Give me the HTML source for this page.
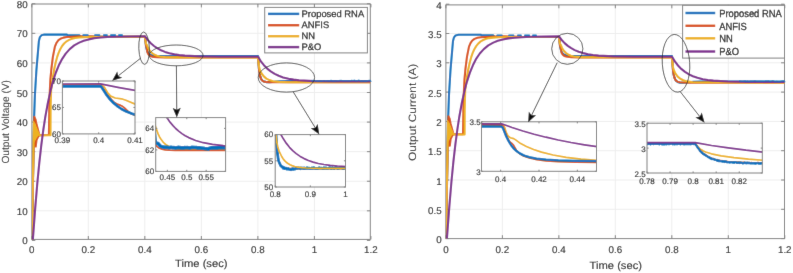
<!DOCTYPE html>
<html><head><meta charset="utf-8"><style>
html,body{margin:0;padding:0;background:#fff;width:793px;height:273px;overflow:hidden;}
svg{display:block;}
</style></head><body>
<svg text-rendering="geometricPrecision" xmlns="http://www.w3.org/2000/svg" width="793" height="273" viewBox="0 0 793 273" font-family="Liberation Sans, sans-serif">
<defs><filter id="bl" filterUnits="userSpaceOnUse" x="0" y="0" width="793" height="273"><feConvolveMatrix order="3" kernelMatrix="0.0072 0.0847 0.0072 0.0847 1 0.0847 0.0072 0.0847 0.0072" edgeMode="duplicate"/></filter></defs>
<g filter="url(#bl)">
<rect width="793" height="273" fill="#fff"/>
<line x1="88.32" y1="4.00" x2="88.32" y2="239.40" stroke="#eeeeee" stroke-width="1.00" />
<line x1="144.84" y1="4.00" x2="144.84" y2="239.40" stroke="#eeeeee" stroke-width="1.00" />
<line x1="201.36" y1="4.00" x2="201.36" y2="239.40" stroke="#eeeeee" stroke-width="1.00" />
<line x1="257.88" y1="4.00" x2="257.88" y2="239.40" stroke="#eeeeee" stroke-width="1.00" />
<line x1="314.40" y1="4.00" x2="314.40" y2="239.40" stroke="#eeeeee" stroke-width="1.00" />
<line x1="31.90" y1="210.82" x2="370.30" y2="210.82" stroke="#eeeeee" stroke-width="1.00" />
<line x1="31.90" y1="181.24" x2="370.30" y2="181.24" stroke="#eeeeee" stroke-width="1.00" />
<line x1="31.90" y1="151.66" x2="370.30" y2="151.66" stroke="#eeeeee" stroke-width="1.00" />
<line x1="31.90" y1="122.08" x2="370.30" y2="122.08" stroke="#eeeeee" stroke-width="1.00" />
<line x1="31.90" y1="92.50" x2="370.30" y2="92.50" stroke="#eeeeee" stroke-width="1.00" />
<line x1="31.90" y1="62.92" x2="370.30" y2="62.92" stroke="#eeeeee" stroke-width="1.00" />
<line x1="31.90" y1="33.34" x2="370.30" y2="33.34" stroke="#eeeeee" stroke-width="1.00" />
<defs><clipPath id="cL"><rect x="31.90" y="2.00" width="338.40" height="237.40"/></clipPath></defs>
<rect x="31.90" y="4.00" width="338.40" height="235.40" fill="none" stroke="#7f7f7f" stroke-width="1.00"/>
<line x1="31.80" y1="239.40" x2="31.80" y2="236.00" stroke="#7f7f7f" stroke-width="1.00" />
<line x1="31.80" y1="4.00" x2="31.80" y2="7.40" stroke="#7f7f7f" stroke-width="1.00" />
<line x1="88.32" y1="239.40" x2="88.32" y2="236.00" stroke="#7f7f7f" stroke-width="1.00" />
<line x1="88.32" y1="4.00" x2="88.32" y2="7.40" stroke="#7f7f7f" stroke-width="1.00" />
<line x1="144.84" y1="239.40" x2="144.84" y2="236.00" stroke="#7f7f7f" stroke-width="1.00" />
<line x1="144.84" y1="4.00" x2="144.84" y2="7.40" stroke="#7f7f7f" stroke-width="1.00" />
<line x1="201.36" y1="239.40" x2="201.36" y2="236.00" stroke="#7f7f7f" stroke-width="1.00" />
<line x1="201.36" y1="4.00" x2="201.36" y2="7.40" stroke="#7f7f7f" stroke-width="1.00" />
<line x1="257.88" y1="239.40" x2="257.88" y2="236.00" stroke="#7f7f7f" stroke-width="1.00" />
<line x1="257.88" y1="4.00" x2="257.88" y2="7.40" stroke="#7f7f7f" stroke-width="1.00" />
<line x1="314.40" y1="239.40" x2="314.40" y2="236.00" stroke="#7f7f7f" stroke-width="1.00" />
<line x1="314.40" y1="4.00" x2="314.40" y2="7.40" stroke="#7f7f7f" stroke-width="1.00" />
<line x1="370.92" y1="239.40" x2="370.92" y2="236.00" stroke="#7f7f7f" stroke-width="1.00" />
<line x1="370.92" y1="4.00" x2="370.92" y2="7.40" stroke="#7f7f7f" stroke-width="1.00" />
<line x1="31.90" y1="240.40" x2="35.30" y2="240.40" stroke="#7f7f7f" stroke-width="1.00" />
<line x1="370.30" y1="240.40" x2="366.90" y2="240.40" stroke="#7f7f7f" stroke-width="1.00" />
<line x1="31.90" y1="210.82" x2="35.30" y2="210.82" stroke="#7f7f7f" stroke-width="1.00" />
<line x1="370.30" y1="210.82" x2="366.90" y2="210.82" stroke="#7f7f7f" stroke-width="1.00" />
<line x1="31.90" y1="181.24" x2="35.30" y2="181.24" stroke="#7f7f7f" stroke-width="1.00" />
<line x1="370.30" y1="181.24" x2="366.90" y2="181.24" stroke="#7f7f7f" stroke-width="1.00" />
<line x1="31.90" y1="151.66" x2="35.30" y2="151.66" stroke="#7f7f7f" stroke-width="1.00" />
<line x1="370.30" y1="151.66" x2="366.90" y2="151.66" stroke="#7f7f7f" stroke-width="1.00" />
<line x1="31.90" y1="122.08" x2="35.30" y2="122.08" stroke="#7f7f7f" stroke-width="1.00" />
<line x1="370.30" y1="122.08" x2="366.90" y2="122.08" stroke="#7f7f7f" stroke-width="1.00" />
<line x1="31.90" y1="92.50" x2="35.30" y2="92.50" stroke="#7f7f7f" stroke-width="1.00" />
<line x1="370.30" y1="92.50" x2="366.90" y2="92.50" stroke="#7f7f7f" stroke-width="1.00" />
<line x1="31.90" y1="62.92" x2="35.30" y2="62.92" stroke="#7f7f7f" stroke-width="1.00" />
<line x1="370.30" y1="62.92" x2="366.90" y2="62.92" stroke="#7f7f7f" stroke-width="1.00" />
<line x1="31.90" y1="33.34" x2="35.30" y2="33.34" stroke="#7f7f7f" stroke-width="1.00" />
<line x1="370.30" y1="33.34" x2="366.90" y2="33.34" stroke="#7f7f7f" stroke-width="1.00" />
<line x1="31.90" y1="3.76" x2="35.30" y2="3.76" stroke="#7f7f7f" stroke-width="1.00" />
<line x1="370.30" y1="3.76" x2="366.90" y2="3.76" stroke="#7f7f7f" stroke-width="1.00" />
<g clip-path="url(#cL)">
<path d="M31.8,240.4 L34.1,118.4 L34.9,95.2 L36.4,70.1 L38.9,41.0 L39.9,37.1 L41.4,35.3 L44.4,34.6 L66.5,34.5 L67.6,35.2 L79.3,35.2 L80.3,36.4 L80.3,36.9 L145.0,36.9 L146.2,47.1 L146.9,50.0 L147.7,52.2 L148.8,53.7 L150.2,54.7 L152.2,55.4 L154.9,55.8 L166.5,56.1 L258.1,56.1 L259.0,69.2 L259.7,73.6 L260.4,77.0 L261.3,79.2 L262.5,80.6 L264.0,81.6 L266.1,82.1 L269.7,82.2 L279.2,81.3 L286.2,81.0 L370.9,81.0" fill="none" stroke="#0072BD" stroke-width="2.10" stroke-linejoin="round" stroke-linecap="round" />
<path d="M31.8,240.4 L34.3,116.9 L35.5,119.4 L36.5,124.4 L39.4,135.0 L37.1,138.0 L36.1,140.5 L35.7,146.5 L36.5,140.0 L38.4,136.0 L39.9,135.1 L48.9,135.0 L49.4,104.0 L49.9,89.3 L50.4,79.1 L51.4,68.6 L52.9,56.7 L54.9,46.6 L56.4,43.0 L57.9,40.8 L58.4,40.2 L60.4,38.8 L63.4,37.6 L66.9,37.0 L80.4,36.4 L89.9,36.2 L96.8,36.6 L105.8,36.8 L145.0,36.9 L146.0,45.7 L146.7,48.0 L147.2,51.4 L147.7,52.9 L148.5,54.4 L149.7,55.5 L151.2,56.3 L153.2,56.9 L157.3,57.3 L164.7,57.4 L258.1,57.4 L259.1,70.2 L259.7,74.2 L260.4,77.3 L261.3,79.3 L262.3,80.6 L263.8,81.5 L265.8,81.9 L269.3,82.2 L275.6,82.3 L370.9,82.3" fill="none" stroke="#D95319" stroke-width="2.10" stroke-linejoin="round" stroke-linecap="round" />
<path d="M31.8,240.4 L33.9,124.4 L39.4,135.2 L50.5,135.3 L50.6,110.3 L51.1,90.2 L52.6,78.8 L54.1,69.8 L55.6,62.8 L57.1,57.2 L58.6,52.9 L60.1,49.5 L62.1,46.0 L64.1,43.5 L66.6,41.3 L69.1,39.9 L72.1,38.7 L75.1,38.0 L79.1,37.5 L84.6,37.1 L98.5,36.9 L145.1,36.9 L145.8,42.9 L146.1,43.9 L146.6,44.4 L147.9,47.6 L149.8,50.7 L151.8,52.9 L154.1,54.5 L156.9,55.8 L159.9,56.5 L165.9,57.2 L174.9,57.4 L258.1,57.4 L258.6,63.5 L259.2,67.6 L260.1,70.7 L261.6,73.5 L263.8,76.4 L266.4,78.6 L269.4,80.1 L273.1,81.2 L279.1,81.9 L289.1,82.2 L370.9,82.3" fill="none" stroke="#EDB120" stroke-width="2.10" stroke-linejoin="round" stroke-linecap="round" />
<path d="M33.3,120.9 L34.9,123.4 L36.3,126.9 L37.5,130.4 L38.9,134.6 L37.1,137.0 L35.1,140.0 L33.5,143.0 Z" fill="#EDB120" stroke="#EDB120" stroke-width="0.8"/>
<path d="M31.8,240.4 L32.8,240.4 L35.3,207.2 L37.3,183.3 L39.3,162.8 L41.3,145.2 L43.3,130.0 L45.3,116.9 L47.8,103.1 L50.3,91.7 L52.7,82.2 L55.7,73.0 L58.7,65.6 L62.2,58.8 L65.7,53.6 L69.7,49.1 L74.2,45.4 L79.2,42.6 L83.7,40.8 L88.7,39.4 L94.1,38.3 L100.6,37.5 L107.6,37.0 L116.6,36.7 L145.0,36.3 L147.8,40.0 L150.8,43.2 L154.0,46.0 L157.5,48.4 L161.0,50.2 L165.0,51.9 L169.4,53.2 L174.4,54.3 L179.4,55.1 L184.9,55.6 L199.4,56.4 L219.8,56.8 L258.1,56.8 L260.9,61.3 L263.9,65.2 L267.2,68.6 L270.7,71.4 L274.7,73.9 L278.7,75.8 L283.1,77.4 L288.6,78.7 L293.6,79.6 L299.1,80.2 L313.6,81.1 L333.5,81.4 L370.9,81.5" fill="none" stroke="#7E2F8E" stroke-width="2.10" stroke-linejoin="round" stroke-linecap="round" />
</g>
<path d="M311.6,80.6 L312.1,80.9 L313.1,80.4 L313.6,80.5 L314.6,80.8 L316.6,80.8 L317.6,81.3 L319.1,80.9 L321.1,81.4 L322.1,80.6 L323.6,81.1 L325.7,80.6 L328.2,81.0 L331.2,80.5 L332.7,81.2 L333.7,80.8 L334.7,81.1 L335.7,81.1 L337.2,80.6 L338.2,80.8 L341.2,80.4 L342.8,80.9 L343.8,80.7 L345.8,80.8 L347.3,80.6 L348.3,80.9 L350.3,80.8 L351.8,80.3 L352.8,80.6 L354.8,80.3 L356.3,81.1 L358.3,80.3 L358.8,80.3 L359.9,80.6 L360.9,81.2 L361.9,81.3 L362.9,80.9 L364.4,81.3 L365.4,81.1 L366.4,81.3 L367.4,80.7 L369.4,80.4 L369.9,80.4 L370.9,81.2" fill="none" stroke="#0072BD" stroke-width="1.40" stroke-linejoin="round" stroke-linecap="round" stroke-opacity="0.70"/>
<line x1="83.20" y1="35.12" x2="87.80" y2="35.12" stroke="#0072BD" stroke-width="1.70" stroke-linecap="round"/>
<line x1="95.00" y1="35.12" x2="99.50" y2="35.12" stroke="#0072BD" stroke-width="1.70" stroke-linecap="round"/>
<line x1="103.80" y1="35.12" x2="107.00" y2="35.12" stroke="#0072BD" stroke-width="1.70" stroke-linecap="round"/>
<line x1="110.90" y1="35.12" x2="115.30" y2="35.12" stroke="#0072BD" stroke-width="1.70" stroke-linecap="round"/>
<line x1="118.90" y1="35.12" x2="122.10" y2="35.12" stroke="#0072BD" stroke-width="1.70" stroke-linecap="round"/>
<text x="27.60" y="244.47" font-size="9.80" text-anchor="end" fill="#1a1a1a" stroke="#1a1a1a" stroke-width="0.12" >0</text>
<text x="27.60" y="214.89" font-size="9.80" text-anchor="end" fill="#1a1a1a" stroke="#1a1a1a" stroke-width="0.12" >10</text>
<text x="27.60" y="185.31" font-size="9.80" text-anchor="end" fill="#1a1a1a" stroke="#1a1a1a" stroke-width="0.12" >20</text>
<text x="27.60" y="155.73" font-size="9.80" text-anchor="end" fill="#1a1a1a" stroke="#1a1a1a" stroke-width="0.12" >30</text>
<text x="27.60" y="126.15" font-size="9.80" text-anchor="end" fill="#1a1a1a" stroke="#1a1a1a" stroke-width="0.12" >40</text>
<text x="27.60" y="96.57" font-size="9.80" text-anchor="end" fill="#1a1a1a" stroke="#1a1a1a" stroke-width="0.12" >50</text>
<text x="27.60" y="66.99" font-size="9.80" text-anchor="end" fill="#1a1a1a" stroke="#1a1a1a" stroke-width="0.12" >60</text>
<text x="27.60" y="37.41" font-size="9.80" text-anchor="end" fill="#1a1a1a" stroke="#1a1a1a" stroke-width="0.12" >70</text>
<text x="27.60" y="7.83" font-size="9.80" text-anchor="end" fill="#1a1a1a" stroke="#1a1a1a" stroke-width="0.12" >80</text>
<text x="31.80" y="253.30" font-size="9.80" text-anchor="middle" fill="#1a1a1a" stroke="#1a1a1a" stroke-width="0.12" >0</text>
<text x="88.32" y="253.30" font-size="9.80" text-anchor="middle" fill="#1a1a1a" stroke="#1a1a1a" stroke-width="0.12" >0.2</text>
<text x="144.84" y="253.30" font-size="9.80" text-anchor="middle" fill="#1a1a1a" stroke="#1a1a1a" stroke-width="0.12" >0.4</text>
<text x="201.36" y="253.30" font-size="9.80" text-anchor="middle" fill="#1a1a1a" stroke="#1a1a1a" stroke-width="0.12" >0.6</text>
<text x="257.88" y="253.30" font-size="9.80" text-anchor="middle" fill="#1a1a1a" stroke="#1a1a1a" stroke-width="0.12" >0.8</text>
<text x="314.40" y="253.30" font-size="9.80" text-anchor="middle" fill="#1a1a1a" stroke="#1a1a1a" stroke-width="0.12" >1</text>
<text x="370.92" y="253.30" font-size="9.80" text-anchor="middle" fill="#1a1a1a" stroke="#1a1a1a" stroke-width="0.12" >1.2</text>
<text x="201.30" y="267.20" font-size="10.60" text-anchor="middle" fill="#1a1a1a" stroke="#1a1a1a" stroke-width="0.12" textLength="52.4" lengthAdjust="spacingAndGlyphs">Time (sec)</text>
<text transform="translate(8.6,121.8) rotate(-90)" font-size="10.4" text-anchor="middle" fill="#1a1a1a" textLength="83.6" lengthAdjust="spacingAndGlyphs">Output Voltage (V)</text>
<rect x="264.70" y="7.40" width="102.70" height="45.50" fill="#fff" stroke="#7f7f7f" stroke-width="1"/>
<line x1="268.00" y1="13.90" x2="299.20" y2="13.90" stroke="#0072BD" stroke-width="2.40" />
<text transform="translate(301.60 16.90) scale(1 1.000)" font-size="9.40" fill="#1a1a1a" stroke="#1a1a1a" stroke-width="0.25">Proposed RNA</text>
<line x1="268.00" y1="25.20" x2="299.20" y2="25.20" stroke="#D95319" stroke-width="2.40" />
<text transform="translate(301.60 28.20) scale(1 1.000)" font-size="9.40" fill="#1a1a1a" stroke="#1a1a1a" stroke-width="0.25">ANFIS</text>
<line x1="268.00" y1="36.20" x2="299.20" y2="36.20" stroke="#EDB120" stroke-width="2.40" />
<text transform="translate(301.60 39.00) scale(1 1.000)" font-size="9.40" fill="#1a1a1a" stroke="#1a1a1a" stroke-width="0.25">NN</text>
<line x1="268.00" y1="47.10" x2="299.20" y2="47.10" stroke="#7E2F8E" stroke-width="2.40" />
<text transform="translate(301.60 49.80) scale(1 1.000)" font-size="9.40" fill="#1a1a1a" stroke="#1a1a1a" stroke-width="0.25">P&amp;O</text>
<clipPath id="ci1"><rect x="62.40" y="81.00" width="72.60" height="52.90"/></clipPath>
<rect x="62.40" y="81.00" width="72.60" height="52.90" fill="#fff"/>
<g clip-path="url(#ci1)">
<path d="M58.8,85.2 L100.8,85.3 L101.6,85.9 L102.6,87.1 L107.0,93.9 L109.6,97.4 L112.0,100.2 L114.0,102.1 L116.5,103.8 L120.7,105.4 L122.5,106.3 L124.2,107.7 L128.4,111.7 L131.0,113.6 L134.2,115.0 L138.6,116.4 L1553.6,123.8" fill="none" stroke="#D95319" stroke-width="1.70" stroke-linejoin="round" stroke-linecap="round" />
<path d="M58.8,84.8 L101.6,84.8 L104.5,87.3 L107.5,92.5 L110.7,96.1 L115.2,98.0 L121.5,98.8 L125.9,100.3 L134.6,103.9 L138.6,105.1 L1553.6,123.3" fill="none" stroke="#EDB120" stroke-width="1.70" stroke-linejoin="round" stroke-linecap="round" />
<path d="M58.8,86.3 L100.6,86.3 L101.6,87.3 L106.0,94.1 L109.3,98.5 L112.9,102.4 L116.9,105.8 L121.5,109.0 L126.4,111.6 L132.2,113.8 L138.6,115.6 L1553.6,122.2" fill="none" stroke="#0072BD" stroke-width="2.70" stroke-linejoin="round" stroke-linecap="round" />
<path d="M58.8,84.0 L100.5,83.9 L119.2,87.6 L138.6,91.1 L1553.6,122.0" fill="none" stroke="#7E2F8E" stroke-width="1.70" stroke-linejoin="round" stroke-linecap="round" />
</g>
<rect x="62.40" y="81.00" width="72.60" height="52.90" fill="none" stroke="#7f7f7f" stroke-width="1.00"/>
<line x1="62.40" y1="133.90" x2="62.40" y2="132.30" stroke="#7f7f7f" stroke-width="1.00" />
<line x1="62.40" y1="81.00" x2="62.40" y2="82.60" stroke="#7f7f7f" stroke-width="1.00" />
<line x1="98.70" y1="133.90" x2="98.70" y2="132.30" stroke="#7f7f7f" stroke-width="1.00" />
<line x1="98.70" y1="81.00" x2="98.70" y2="82.60" stroke="#7f7f7f" stroke-width="1.00" />
<line x1="135.00" y1="133.90" x2="135.00" y2="132.30" stroke="#7f7f7f" stroke-width="1.00" />
<line x1="135.00" y1="81.00" x2="135.00" y2="82.60" stroke="#7f7f7f" stroke-width="1.00" />
<line x1="62.40" y1="133.90" x2="64.00" y2="133.90" stroke="#7f7f7f" stroke-width="1.00" />
<line x1="135.00" y1="133.90" x2="133.40" y2="133.90" stroke="#7f7f7f" stroke-width="1.00" />
<line x1="62.40" y1="107.45" x2="64.00" y2="107.45" stroke="#7f7f7f" stroke-width="1.00" />
<line x1="135.00" y1="107.45" x2="133.40" y2="107.45" stroke="#7f7f7f" stroke-width="1.00" />
<line x1="62.40" y1="81.00" x2="64.00" y2="81.00" stroke="#7f7f7f" stroke-width="1.00" />
<line x1="135.00" y1="81.00" x2="133.40" y2="81.00" stroke="#7f7f7f" stroke-width="1.00" />
<text x="61.00" y="136.70" font-size="8.00" text-anchor="end" fill="#1a1a1a" stroke="#1a1a1a" stroke-width="0.12" >60</text>
<text x="61.00" y="110.25" font-size="8.00" text-anchor="end" fill="#1a1a1a" stroke="#1a1a1a" stroke-width="0.12" >65</text>
<text x="61.00" y="83.80" font-size="8.00" text-anchor="end" fill="#1a1a1a" stroke="#1a1a1a" stroke-width="0.12" >70</text>
<text x="62.40" y="142.70" font-size="8.00" text-anchor="middle" fill="#1a1a1a" stroke="#1a1a1a" stroke-width="0.12" >0.39</text>
<text x="98.70" y="142.70" font-size="8.00" text-anchor="middle" fill="#1a1a1a" stroke="#1a1a1a" stroke-width="0.12" >0.4</text>
<text x="135.00" y="142.70" font-size="8.00" text-anchor="middle" fill="#1a1a1a" stroke="#1a1a1a" stroke-width="0.12" >0.41</text>
<clipPath id="ci2"><rect x="155.70" y="117.60" width="69.90" height="53.80"/></clipPath>
<rect x="155.70" y="117.60" width="69.90" height="53.80" fill="#fff"/>
<g clip-path="url(#ci2)">
<path d="M148.1,71.5 L155.3,126.1 L158.0,133.6 L159.4,136.7 L161.0,139.3 L162.7,141.6 L164.5,143.5 L166.5,145.1 L168.8,146.4 L172.2,147.8 L176.7,148.8 L182.2,149.4 L189.4,149.7 L208.8,149.9 L303.6,149.9" fill="none" stroke="#EDB120" stroke-width="1.70" stroke-linejoin="round" stroke-linecap="round" />
<path d="M148.1,72.4 L155.3,144.5 L157.1,146.6 L159.4,148.2 L162.0,149.1 L165.3,149.8 L169.5,150.2 L175.2,150.3 L303.6,150.4" fill="none" stroke="#D95319" stroke-width="1.70" stroke-linejoin="round" stroke-linecap="round" />
<path d="M148.1,74.8 L155.3,142.3 L156.4,143.1 L158.0,143.5 L160.4,146.1 L163.0,147.1 L166.3,147.4 L167.3,147.2 L168.5,147.7 L169.5,147.8 L171.0,147.3 L173.0,147.8 L174.2,147.6 L175.5,148.0 L178.0,147.4 L181.4,147.9 L183.7,147.9 L184.9,147.6 L185.9,147.7 L187.2,147.5 L189.4,147.9 L191.6,147.4 L195.4,147.5 L196.4,147.6 L197.6,147.9 L198.9,147.7 L203.3,148.2 L204.6,148.5 L208.1,149.1 L209.8,148.2 L211.6,147.7 L212.8,147.9 L217.3,147.9 L219.8,147.5 L222.3,147.7 L224.5,147.6 L225.5,148.0 L303.6,147.7" fill="none" stroke="#0072BD" stroke-width="3.60" stroke-linejoin="round" stroke-linecap="round" />
<path d="M148.1,69.9 L156.0,95.7 L160.4,105.9 L162.7,110.5 L165.0,114.7 L167.5,118.6 L170.2,122.4 L173.0,125.6 L175.7,128.5 L178.7,131.1 L181.9,133.6 L185.2,135.7 L188.7,137.6 L195.6,140.5 L203.3,142.7 L212.5,144.4 L223.3,145.6 L226.0,145.8 L303.6,147.2" fill="none" stroke="#7E2F8E" stroke-width="1.70" stroke-linejoin="round" stroke-linecap="round" />
</g>
<rect x="155.70" y="117.60" width="69.90" height="53.80" fill="none" stroke="#7f7f7f" stroke-width="1.00"/>
<line x1="167.35" y1="171.40" x2="167.35" y2="169.80" stroke="#7f7f7f" stroke-width="1.00" />
<line x1="167.35" y1="117.60" x2="167.35" y2="119.20" stroke="#7f7f7f" stroke-width="1.00" />
<line x1="186.77" y1="171.40" x2="186.77" y2="169.80" stroke="#7f7f7f" stroke-width="1.00" />
<line x1="186.77" y1="117.60" x2="186.77" y2="119.20" stroke="#7f7f7f" stroke-width="1.00" />
<line x1="206.18" y1="171.40" x2="206.18" y2="169.80" stroke="#7f7f7f" stroke-width="1.00" />
<line x1="206.18" y1="117.60" x2="206.18" y2="119.20" stroke="#7f7f7f" stroke-width="1.00" />
<line x1="155.70" y1="171.40" x2="157.30" y2="171.40" stroke="#7f7f7f" stroke-width="1.00" />
<line x1="225.60" y1="171.40" x2="224.00" y2="171.40" stroke="#7f7f7f" stroke-width="1.00" />
<line x1="155.70" y1="149.88" x2="157.30" y2="149.88" stroke="#7f7f7f" stroke-width="1.00" />
<line x1="225.60" y1="149.88" x2="224.00" y2="149.88" stroke="#7f7f7f" stroke-width="1.00" />
<line x1="155.70" y1="128.36" x2="157.30" y2="128.36" stroke="#7f7f7f" stroke-width="1.00" />
<line x1="225.60" y1="128.36" x2="224.00" y2="128.36" stroke="#7f7f7f" stroke-width="1.00" />
<text x="154.10" y="174.20" font-size="8.00" text-anchor="end" fill="#1a1a1a" stroke="#1a1a1a" stroke-width="0.12" >60</text>
<text x="154.10" y="152.68" font-size="8.00" text-anchor="end" fill="#1a1a1a" stroke="#1a1a1a" stroke-width="0.12" >62</text>
<text x="154.10" y="131.16" font-size="8.00" text-anchor="end" fill="#1a1a1a" stroke="#1a1a1a" stroke-width="0.12" >64</text>
<text x="167.35" y="179.90" font-size="8.00" text-anchor="middle" fill="#1a1a1a" stroke="#1a1a1a" stroke-width="0.12" >0.45</text>
<text x="186.77" y="179.90" font-size="8.00" text-anchor="middle" fill="#1a1a1a" stroke="#1a1a1a" stroke-width="0.12" >0.5</text>
<text x="206.18" y="179.90" font-size="8.00" text-anchor="middle" fill="#1a1a1a" stroke="#1a1a1a" stroke-width="0.12" >0.55</text>
<clipPath id="ci3"><rect x="275.20" y="134.60" width="70.30" height="52.40"/></clipPath>
<rect x="275.20" y="134.60" width="70.30" height="52.40" fill="#fff"/>
<g clip-path="url(#ci3)">
<path d="M134.8,86.4 L274.8,124.6 L275.5,124.6 L276.6,145.4 L277.2,152.6 L278.0,158.0 L278.9,161.9 L280.0,164.6 L281.4,166.4 L283.3,167.5 L286.8,168.3 L292.7,168.6 L345.9,168.7" fill="none" stroke="#D95319" stroke-width="1.70" stroke-linejoin="round" stroke-linecap="round" />
<path d="M134.8,87.4 L275.1,122.9 L275.5,122.5 L276.6,145.1 L278.2,159.1 L278.7,161.2 L280.8,165.9 L281.9,166.8 L282.4,166.6 L282.9,168.0 L283.5,167.3 L284.0,167.5 L284.5,168.6 L285.0,167.8 L285.6,168.3 L286.1,168.2 L286.6,169.1 L287.7,169.2 L288.2,168.5 L289.3,169.4 L289.7,169.4 L291.0,169.8 L291.5,169.6 L292.0,168.9 L292.5,169.4 L293.0,168.6 L293.5,169.3 L294.0,169.3 L294.5,168.9 L295.2,169.1 L296.2,168.1 L297.7,168.3 L298.2,167.9 L298.7,167.8 L299.2,168.2 L299.9,168.2 L300.4,168.7 L300.9,168.0 L301.4,168.2 L301.9,167.9 L302.4,168.0 L303.4,168.7 L303.9,167.9 L304.1,167.8 L304.6,168.5 L305.1,168.2 L306.1,168.4 L307.1,167.6 L307.6,168.3 L308.4,168.0 L308.9,168.3 L309.4,168.1 L310.3,168.6 L311.3,168.5 L311.8,167.8 L312.1,167.8 L312.8,168.4 L313.1,168.3 L313.6,167.6 L314.1,167.6 L315.1,168.6 L316.1,168.6 L316.6,168.4 L317.3,168.6 L318.3,168.4 L319.3,167.7 L320.5,168.2 L321.5,168.1 L322.5,168.4 L323.0,168.7 L323.5,168.4 L324.0,167.6 L324.5,168.4 L324.7,168.5 L326.0,167.8 L326.2,167.8 L326.7,168.5 L327.7,168.5 L328.7,168.2 L329.5,167.6 L330.5,167.8 L331.0,168.7 L331.5,168.7 L331.9,167.9 L332.4,167.7 L332.9,168.1 L333.4,168.1 L334.2,168.7 L335.2,167.6 L335.7,167.7 L336.7,167.6 L337.2,168.3 L337.7,168.6 L338.4,168.5 L339.9,167.6 L340.4,167.9 L341.4,167.8 L341.9,168.1 L342.4,168.1 L343.1,168.6 L343.6,167.8 L344.1,168.4 L344.6,167.6 L345.9,168.5" fill="none" stroke="#0072BD" stroke-width="2.70" stroke-linejoin="round" stroke-linecap="round" />
<path d="M134.8,86.0 L274.8,124.1 L275.5,124.1 L276.0,134.4 L276.7,141.5 L277.7,146.7 L279.2,151.4 L281.7,156.5 L283.1,158.7 L284.6,160.6 L286.2,162.2 L288.0,163.5 L290.0,164.7 L292.0,165.6 L294.7,166.5 L297.9,167.2 L301.7,167.7 L306.4,168.0 L318.5,168.3 L345.9,168.4" fill="none" stroke="#EDB120" stroke-width="1.70" stroke-linejoin="round" stroke-linecap="round" />
<path d="M134.8,85.2 L274.8,122.8 L275.5,122.8 L278.0,128.8 L280.6,134.1 L283.5,139.1 L286.4,143.4 L289.5,147.3 L292.7,150.6 L296.2,153.6 L300.2,156.4 L304.1,158.6 L308.4,160.5 L313.1,162.1 L318.3,163.5 L324.0,164.5 L330.2,165.4 L337.4,166.0 L345.9,166.5" fill="none" stroke="#7E2F8E" stroke-width="1.70" stroke-linejoin="round" stroke-linecap="round" />
</g>
<rect x="275.20" y="134.60" width="70.30" height="52.40" fill="none" stroke="#7f7f7f" stroke-width="1.00"/>
<line x1="275.20" y1="187.00" x2="275.20" y2="185.40" stroke="#7f7f7f" stroke-width="1.00" />
<line x1="275.20" y1="134.60" x2="275.20" y2="136.20" stroke="#7f7f7f" stroke-width="1.00" />
<line x1="310.35" y1="187.00" x2="310.35" y2="185.40" stroke="#7f7f7f" stroke-width="1.00" />
<line x1="310.35" y1="134.60" x2="310.35" y2="136.20" stroke="#7f7f7f" stroke-width="1.00" />
<line x1="345.50" y1="187.00" x2="345.50" y2="185.40" stroke="#7f7f7f" stroke-width="1.00" />
<line x1="345.50" y1="134.60" x2="345.50" y2="136.20" stroke="#7f7f7f" stroke-width="1.00" />
<line x1="275.20" y1="187.00" x2="276.80" y2="187.00" stroke="#7f7f7f" stroke-width="1.00" />
<line x1="345.50" y1="187.00" x2="343.90" y2="187.00" stroke="#7f7f7f" stroke-width="1.00" />
<line x1="275.20" y1="160.80" x2="276.80" y2="160.80" stroke="#7f7f7f" stroke-width="1.00" />
<line x1="345.50" y1="160.80" x2="343.90" y2="160.80" stroke="#7f7f7f" stroke-width="1.00" />
<line x1="275.20" y1="134.60" x2="276.80" y2="134.60" stroke="#7f7f7f" stroke-width="1.00" />
<line x1="345.50" y1="134.60" x2="343.90" y2="134.60" stroke="#7f7f7f" stroke-width="1.00" />
<text x="273.20" y="189.80" font-size="8.00" text-anchor="end" fill="#1a1a1a" stroke="#1a1a1a" stroke-width="0.12" >50</text>
<text x="273.20" y="163.60" font-size="8.00" text-anchor="end" fill="#1a1a1a" stroke="#1a1a1a" stroke-width="0.12" >55</text>
<text x="273.20" y="137.40" font-size="8.00" text-anchor="end" fill="#1a1a1a" stroke="#1a1a1a" stroke-width="0.12" >60</text>
<text x="275.20" y="196.70" font-size="8.00" text-anchor="middle" fill="#1a1a1a" stroke="#1a1a1a" stroke-width="0.12" >0.8</text>
<text x="310.35" y="196.70" font-size="8.00" text-anchor="middle" fill="#1a1a1a" stroke="#1a1a1a" stroke-width="0.12" >0.9</text>
<text x="345.50" y="196.70" font-size="8.00" text-anchor="middle" fill="#1a1a1a" stroke="#1a1a1a" stroke-width="0.12" >1</text>
<ellipse cx="144.10" cy="48.20" rx="5.30" ry="16.20" fill="none" stroke="#333" stroke-width="0.8" transform="rotate(-2.00 144.10 48.20)"/>
<ellipse cx="176.20" cy="55.40" rx="26.90" ry="10.40" fill="none" stroke="#333" stroke-width="0.8" transform="rotate(0.00 176.20 55.40)"/>
<ellipse cx="286.40" cy="77.50" rx="28.20" ry="14.60" fill="none" stroke="#333" stroke-width="0.8" transform="rotate(0.00 286.40 77.50)"/>
<line x1="140.60" y1="58.20" x2="118.19" y2="75.89" stroke="#222" stroke-width="0.80" />
<path d="M112.10,80.70 L117.23,71.55 L118.19,75.89 L122.19,77.83 Z" fill="#111"/>
<line x1="176.40" y1="65.80" x2="176.74" y2="109.84" stroke="#222" stroke-width="0.80" />
<path d="M176.80,117.60 L172.73,107.93 L176.74,109.84 L180.72,107.87 Z" fill="#111"/>
<line x1="293.30" y1="92.00" x2="315.24" y2="127.78" stroke="#222" stroke-width="0.80" />
<path d="M319.30,134.40 L310.82,128.22 L315.24,127.78 L317.64,124.04 Z" fill="#111"/>
<line x1="502.38" y1="4.90" x2="502.38" y2="238.60" stroke="#eeeeee" stroke-width="1.00" />
<line x1="558.86" y1="4.90" x2="558.86" y2="238.60" stroke="#eeeeee" stroke-width="1.00" />
<line x1="615.34" y1="4.90" x2="615.34" y2="238.60" stroke="#eeeeee" stroke-width="1.00" />
<line x1="671.82" y1="4.90" x2="671.82" y2="238.60" stroke="#eeeeee" stroke-width="1.00" />
<line x1="728.30" y1="4.90" x2="728.30" y2="238.60" stroke="#eeeeee" stroke-width="1.00" />
<line x1="445.90" y1="209.30" x2="784.50" y2="209.30" stroke="#eeeeee" stroke-width="1.00" />
<line x1="445.90" y1="180.00" x2="784.50" y2="180.00" stroke="#eeeeee" stroke-width="1.00" />
<line x1="445.90" y1="150.70" x2="784.50" y2="150.70" stroke="#eeeeee" stroke-width="1.00" />
<line x1="445.90" y1="121.40" x2="784.50" y2="121.40" stroke="#eeeeee" stroke-width="1.00" />
<line x1="445.90" y1="92.10" x2="784.50" y2="92.10" stroke="#eeeeee" stroke-width="1.00" />
<line x1="445.90" y1="62.80" x2="784.50" y2="62.80" stroke="#eeeeee" stroke-width="1.00" />
<line x1="445.90" y1="33.50" x2="784.50" y2="33.50" stroke="#eeeeee" stroke-width="1.00" />
<defs><clipPath id="cR"><rect x="445.90" y="2.90" width="338.60" height="235.70"/></clipPath></defs>
<rect x="445.90" y="4.90" width="338.60" height="233.70" fill="none" stroke="#7f7f7f" stroke-width="1.00"/>
<line x1="445.90" y1="238.60" x2="445.90" y2="235.20" stroke="#7f7f7f" stroke-width="1.00" />
<line x1="445.90" y1="4.90" x2="445.90" y2="8.30" stroke="#7f7f7f" stroke-width="1.00" />
<line x1="502.38" y1="238.60" x2="502.38" y2="235.20" stroke="#7f7f7f" stroke-width="1.00" />
<line x1="502.38" y1="4.90" x2="502.38" y2="8.30" stroke="#7f7f7f" stroke-width="1.00" />
<line x1="558.86" y1="238.60" x2="558.86" y2="235.20" stroke="#7f7f7f" stroke-width="1.00" />
<line x1="558.86" y1="4.90" x2="558.86" y2="8.30" stroke="#7f7f7f" stroke-width="1.00" />
<line x1="615.34" y1="238.60" x2="615.34" y2="235.20" stroke="#7f7f7f" stroke-width="1.00" />
<line x1="615.34" y1="4.90" x2="615.34" y2="8.30" stroke="#7f7f7f" stroke-width="1.00" />
<line x1="671.82" y1="238.60" x2="671.82" y2="235.20" stroke="#7f7f7f" stroke-width="1.00" />
<line x1="671.82" y1="4.90" x2="671.82" y2="8.30" stroke="#7f7f7f" stroke-width="1.00" />
<line x1="728.30" y1="238.60" x2="728.30" y2="235.20" stroke="#7f7f7f" stroke-width="1.00" />
<line x1="728.30" y1="4.90" x2="728.30" y2="8.30" stroke="#7f7f7f" stroke-width="1.00" />
<line x1="784.78" y1="238.60" x2="784.78" y2="235.20" stroke="#7f7f7f" stroke-width="1.00" />
<line x1="784.78" y1="4.90" x2="784.78" y2="8.30" stroke="#7f7f7f" stroke-width="1.00" />
<line x1="445.90" y1="238.60" x2="449.30" y2="238.60" stroke="#7f7f7f" stroke-width="1.00" />
<line x1="784.50" y1="238.60" x2="781.10" y2="238.60" stroke="#7f7f7f" stroke-width="1.00" />
<line x1="445.90" y1="209.30" x2="449.30" y2="209.30" stroke="#7f7f7f" stroke-width="1.00" />
<line x1="784.50" y1="209.30" x2="781.10" y2="209.30" stroke="#7f7f7f" stroke-width="1.00" />
<line x1="445.90" y1="180.00" x2="449.30" y2="180.00" stroke="#7f7f7f" stroke-width="1.00" />
<line x1="784.50" y1="180.00" x2="781.10" y2="180.00" stroke="#7f7f7f" stroke-width="1.00" />
<line x1="445.90" y1="150.70" x2="449.30" y2="150.70" stroke="#7f7f7f" stroke-width="1.00" />
<line x1="784.50" y1="150.70" x2="781.10" y2="150.70" stroke="#7f7f7f" stroke-width="1.00" />
<line x1="445.90" y1="121.40" x2="449.30" y2="121.40" stroke="#7f7f7f" stroke-width="1.00" />
<line x1="784.50" y1="121.40" x2="781.10" y2="121.40" stroke="#7f7f7f" stroke-width="1.00" />
<line x1="445.90" y1="92.10" x2="449.30" y2="92.10" stroke="#7f7f7f" stroke-width="1.00" />
<line x1="784.50" y1="92.10" x2="781.10" y2="92.10" stroke="#7f7f7f" stroke-width="1.00" />
<line x1="445.90" y1="62.80" x2="449.30" y2="62.80" stroke="#7f7f7f" stroke-width="1.00" />
<line x1="784.50" y1="62.80" x2="781.10" y2="62.80" stroke="#7f7f7f" stroke-width="1.00" />
<line x1="445.90" y1="33.50" x2="449.30" y2="33.50" stroke="#7f7f7f" stroke-width="1.00" />
<line x1="784.50" y1="33.50" x2="781.10" y2="33.50" stroke="#7f7f7f" stroke-width="1.00" />
<line x1="445.90" y1="4.20" x2="449.30" y2="4.20" stroke="#7f7f7f" stroke-width="1.00" />
<line x1="784.50" y1="4.20" x2="781.10" y2="4.20" stroke="#7f7f7f" stroke-width="1.00" />
<g clip-path="url(#cR)">
<path d="M445.9,238.6 L448.2,117.7 L449.0,94.8 L450.5,69.9 L453.0,41.0 L454.0,37.3 L455.5,35.5 L458.5,34.8 L480.6,34.7 L481.6,35.4 L493.3,35.4 L494.3,36.6 L494.3,37.0 L559.0,37.0 L560.2,47.1 L560.9,50.0 L561.7,52.2 L562.8,53.7 L564.2,54.7 L566.2,55.3 L568.9,55.7 L580.7,56.1 L672.0,56.1 L673.0,69.6 L673.6,74.2 L674.4,77.5 L675.3,79.7 L676.4,81.2 L678.0,82.2 L680.1,82.7 L683.5,82.8 L693.5,81.8 L700.4,81.6 L784.8,81.6" fill="none" stroke="#0072BD" stroke-width="2.10" stroke-linejoin="round" stroke-linecap="round" />
<path d="M445.9,238.6 L448.4,116.2 L449.6,118.7 L450.6,123.7 L453.5,134.2 L451.2,137.1 L450.2,139.6 L449.8,145.6 L450.6,139.1 L452.5,135.1 L454.0,134.3 L463.0,134.2 L463.5,103.5 L464.0,88.9 L464.5,78.8 L465.5,68.4 L467.0,56.6 L469.0,46.6 L470.5,43.1 L472.0,40.9 L472.5,40.3 L474.5,38.9 L477.5,37.7 L481.0,37.2 L494.4,36.6 L503.9,36.4 L519.9,36.9 L559.0,37.0 L560.0,45.7 L560.7,48.0 L561.3,51.4 L561.7,52.9 L562.6,54.4 L563.7,55.5 L565.2,56.3 L567.2,56.8 L571.3,57.2 L578.7,57.4 L672.0,57.4 L673.0,70.3 L673.6,74.4 L674.4,77.5 L675.2,79.5 L676.3,80.9 L677.7,81.7 L679.8,82.2 L683.3,82.5 L690.0,82.6 L784.8,82.6" fill="none" stroke="#D95319" stroke-width="2.10" stroke-linejoin="round" stroke-linecap="round" />
<path d="M445.9,238.6 L448.0,123.7 L453.5,134.4 L464.6,134.5 L464.7,109.7 L465.2,89.8 L466.7,78.5 L468.2,69.7 L469.7,62.7 L471.2,57.2 L472.7,52.9 L474.2,49.5 L476.2,46.1 L478.2,43.6 L480.7,41.4 L483.2,40.0 L486.2,38.8 L489.1,38.1 L493.1,37.6 L498.6,37.3 L512.6,37.0 L559.1,37.0 L559.8,43.0 L560.2,44.0 L560.6,44.4 L561.9,47.7 L563.8,50.7 L565.8,52.8 L568.1,54.5 L570.9,55.7 L573.9,56.5 L579.9,57.1 L588.9,57.3 L672.0,57.4 L672.5,63.5 L673.1,67.7 L674.1,70.8 L675.5,73.7 L677.7,76.6 L680.3,78.8 L683.3,80.3 L687.1,81.4 L693.0,82.2 L703.0,82.5 L784.8,82.6" fill="none" stroke="#EDB120" stroke-width="2.10" stroke-linejoin="round" stroke-linecap="round" />
<path d="M447.4,120.2 L449.0,122.7 L450.4,126.2 L451.6,129.7 L453.0,133.8 L451.2,136.1 L449.2,139.1 L447.6,142.1 Z" fill="#EDB120" stroke="#EDB120" stroke-width="0.8"/>
<path d="M445.9,238.6 L446.9,238.6 L449.4,205.6 L451.4,182.0 L453.4,161.7 L455.4,144.2 L457.4,129.1 L459.4,116.2 L461.9,102.5 L464.4,91.2 L466.9,81.8 L469.9,72.6 L472.9,65.3 L476.3,58.6 L479.8,53.5 L483.8,49.1 L488.3,45.4 L493.3,42.6 L497.8,40.8 L502.8,39.5 L508.3,38.4 L514.8,37.7 L521.8,37.2 L530.7,36.8 L559.0,36.4 L561.7,40.0 L564.6,43.1 L567.8,45.9 L571.2,48.2 L574.7,50.1 L578.7,51.7 L583.1,53.1 L588.1,54.2 L593.1,55.0 L598.6,55.6 L613.1,56.4 L633.6,56.7 L672.0,56.8 L674.9,61.4 L678.0,65.5 L681.3,68.9 L685.0,71.9 L689.0,74.4 L692.9,76.3 L697.4,77.8 L702.9,79.2 L707.9,80.0 L713.4,80.6 L727.9,81.5 L747.8,81.9 L784.8,82.0" fill="none" stroke="#7E2F8E" stroke-width="2.10" stroke-linejoin="round" stroke-linecap="round" />
</g>
<path d="M739.6,81.0 L742.1,81.4 L745.1,81.0 L746.1,81.5 L746.6,81.6 L747.6,81.2 L748.6,81.6 L749.6,81.5 L750.6,81.1 L753.2,81.2 L755.2,80.8 L756.7,81.3 L757.7,81.1 L759.7,81.2 L761.2,81.1 L762.2,81.3 L764.2,81.3 L765.7,80.8 L766.7,81.0 L768.7,80.8 L770.2,81.5 L772.2,80.8 L772.7,80.8 L773.7,81.0 L774.7,81.7 L775.7,81.7 L776.7,81.4 L777.8,81.7 L779.3,81.6 L780.3,81.8 L781.3,81.1 L783.3,80.8 L783.8,80.9 L784.8,81.7" fill="none" stroke="#0072BD" stroke-width="1.40" stroke-linejoin="round" stroke-linecap="round" stroke-opacity="0.70"/>
<line x1="497.20" y1="35.27" x2="501.80" y2="35.27" stroke="#0072BD" stroke-width="1.70" stroke-linecap="round"/>
<line x1="509.00" y1="35.27" x2="513.50" y2="35.27" stroke="#0072BD" stroke-width="1.70" stroke-linecap="round"/>
<line x1="517.80" y1="35.27" x2="521.00" y2="35.27" stroke="#0072BD" stroke-width="1.70" stroke-linecap="round"/>
<line x1="524.90" y1="35.27" x2="529.30" y2="35.27" stroke="#0072BD" stroke-width="1.70" stroke-linecap="round"/>
<line x1="532.90" y1="35.27" x2="536.10" y2="35.27" stroke="#0072BD" stroke-width="1.70" stroke-linecap="round"/>
<text x="441.60" y="243.27" font-size="9.80" text-anchor="end" fill="#1a1a1a" stroke="#1a1a1a" stroke-width="0.12" >0</text>
<text x="441.60" y="213.97" font-size="9.80" text-anchor="end" fill="#1a1a1a" stroke="#1a1a1a" stroke-width="0.12" >0.5</text>
<text x="441.60" y="184.67" font-size="9.80" text-anchor="end" fill="#1a1a1a" stroke="#1a1a1a" stroke-width="0.12" >1</text>
<text x="441.60" y="155.37" font-size="9.80" text-anchor="end" fill="#1a1a1a" stroke="#1a1a1a" stroke-width="0.12" >1.5</text>
<text x="441.60" y="126.07" font-size="9.80" text-anchor="end" fill="#1a1a1a" stroke="#1a1a1a" stroke-width="0.12" >2</text>
<text x="441.60" y="96.77" font-size="9.80" text-anchor="end" fill="#1a1a1a" stroke="#1a1a1a" stroke-width="0.12" >2.5</text>
<text x="441.60" y="67.47" font-size="9.80" text-anchor="end" fill="#1a1a1a" stroke="#1a1a1a" stroke-width="0.12" >3</text>
<text x="441.60" y="38.17" font-size="9.80" text-anchor="end" fill="#1a1a1a" stroke="#1a1a1a" stroke-width="0.12" >3.5</text>
<text x="441.60" y="8.87" font-size="9.80" text-anchor="end" fill="#1a1a1a" stroke="#1a1a1a" stroke-width="0.12" >4</text>
<text x="445.90" y="253.30" font-size="9.80" text-anchor="middle" fill="#1a1a1a" stroke="#1a1a1a" stroke-width="0.12" >0</text>
<text x="502.38" y="253.30" font-size="9.80" text-anchor="middle" fill="#1a1a1a" stroke="#1a1a1a" stroke-width="0.12" >0.2</text>
<text x="558.86" y="253.30" font-size="9.80" text-anchor="middle" fill="#1a1a1a" stroke="#1a1a1a" stroke-width="0.12" >0.4</text>
<text x="615.34" y="253.30" font-size="9.80" text-anchor="middle" fill="#1a1a1a" stroke="#1a1a1a" stroke-width="0.12" >0.6</text>
<text x="671.82" y="253.30" font-size="9.80" text-anchor="middle" fill="#1a1a1a" stroke="#1a1a1a" stroke-width="0.12" >0.8</text>
<text x="728.30" y="253.30" font-size="9.80" text-anchor="middle" fill="#1a1a1a" stroke="#1a1a1a" stroke-width="0.12" >1</text>
<text x="784.78" y="253.30" font-size="9.80" text-anchor="middle" fill="#1a1a1a" stroke="#1a1a1a" stroke-width="0.12" >1.2</text>
<text x="615.80" y="269.00" font-size="10.60" text-anchor="middle" fill="#1a1a1a" stroke="#1a1a1a" stroke-width="0.12" textLength="52.4" lengthAdjust="spacingAndGlyphs">Time (sec)</text>
<text transform="translate(415.9,112.35) rotate(-90)" font-size="10.6" text-anchor="middle" fill="#1a1a1a" textLength="97.2" lengthAdjust="spacingAndGlyphs">Output Current (A)</text>
<rect x="682.60" y="5.30" width="101.90" height="52.80" fill="#fff" stroke="#7f7f7f" stroke-width="1"/>
<line x1="685.50" y1="13.00" x2="715.20" y2="13.00" stroke="#0072BD" stroke-width="2.40" />
<text transform="translate(719.20 17.00) scale(1 1.090)" font-size="9.40" fill="#1a1a1a" stroke="#1a1a1a" stroke-width="0.25">Proposed RNA</text>
<line x1="685.50" y1="25.80" x2="715.20" y2="25.80" stroke="#D95319" stroke-width="2.40" />
<text transform="translate(719.20 29.60) scale(1 1.090)" font-size="9.40" fill="#1a1a1a" stroke="#1a1a1a" stroke-width="0.25">ANFIS</text>
<line x1="685.50" y1="38.30" x2="715.20" y2="38.30" stroke="#EDB120" stroke-width="2.40" />
<text transform="translate(719.20 42.30) scale(1 1.090)" font-size="9.40" fill="#1a1a1a" stroke="#1a1a1a" stroke-width="0.25">NN</text>
<line x1="685.50" y1="51.50" x2="715.20" y2="51.50" stroke="#7E2F8E" stroke-width="2.40" />
<text transform="translate(719.20 55.20) scale(1 1.090)" font-size="9.40" fill="#1a1a1a" stroke="#1a1a1a" stroke-width="0.25">P&amp;O</text>
<clipPath id="cr1"><rect x="481.50" y="121.80" width="115.00" height="49.50"/></clipPath>
<rect x="481.50" y="121.80" width="115.00" height="49.50" fill="#fff"/>
<g clip-path="url(#cr1)">
<path d="M479.6,125.0 L503.2,125.0 L504.7,127.4 L506.2,132.4 L508.0,136.0 L510.2,137.7 L513.7,138.6 L516.0,140.1 L520.7,143.6 L526.4,146.5 L533.6,149.5 L541.5,152.1 L553.1,155.0 L566.2,157.4 L581.0,159.1 L598.4,160.4 L1268.9,162.4" fill="none" stroke="#EDB120" stroke-width="1.70" stroke-linejoin="round" stroke-linecap="round" />
<path d="M479.6,125.0 L501.8,125.1 L502.4,125.8 L503.0,126.9 L506.8,136.4 L509.1,140.8 L510.2,142.2 L512.2,143.7 L513.2,144.8 L516.4,150.2 L517.9,152.2 L520.2,154.1 L523.5,155.9 L526.4,157.0 L529.4,158.0 L536.9,159.6 L546.3,160.8 L558.7,161.6 L575.6,162.1 L598.4,162.5 L1268.9,162.6" fill="none" stroke="#D95319" stroke-width="1.70" stroke-linejoin="round" stroke-linecap="round" />
<path d="M479.6,126.5 L501.8,126.6 L503.0,128.4 L505.8,135.4 L507.8,139.6 L509.7,143.0 L511.7,146.1 L514.1,148.9 L516.8,151.3 L519.8,153.4 L523.2,155.1 L526.0,156.2 L529.2,157.1 L536.5,158.6 L546.1,159.7 L558.4,160.4 L575.2,160.9 L598.4,161.2 L1268.9,161.4" fill="none" stroke="#0072BD" stroke-width="2.30" stroke-linejoin="round" stroke-linecap="round" />
<path d="M479.6,123.9 L501.6,123.8 L512.0,127.5 L522.9,131.0 L534.1,134.2 L545.9,137.2 L558.2,140.0 L571.0,142.5 L584.5,144.8 L598.4,146.9 L1268.9,160.2" fill="none" stroke="#7E2F8E" stroke-width="1.70" stroke-linejoin="round" stroke-linecap="round" />
</g>
<rect x="481.50" y="121.80" width="115.00" height="49.50" fill="none" stroke="#7f7f7f" stroke-width="1.00"/>
<line x1="500.67" y1="171.30" x2="500.67" y2="169.70" stroke="#7f7f7f" stroke-width="1.00" />
<line x1="500.67" y1="121.80" x2="500.67" y2="123.40" stroke="#7f7f7f" stroke-width="1.00" />
<line x1="539.00" y1="171.30" x2="539.00" y2="169.70" stroke="#7f7f7f" stroke-width="1.00" />
<line x1="539.00" y1="121.80" x2="539.00" y2="123.40" stroke="#7f7f7f" stroke-width="1.00" />
<line x1="577.33" y1="171.30" x2="577.33" y2="169.70" stroke="#7f7f7f" stroke-width="1.00" />
<line x1="577.33" y1="121.80" x2="577.33" y2="123.40" stroke="#7f7f7f" stroke-width="1.00" />
<line x1="481.50" y1="171.30" x2="483.10" y2="171.30" stroke="#7f7f7f" stroke-width="1.00" />
<line x1="596.50" y1="171.30" x2="594.90" y2="171.30" stroke="#7f7f7f" stroke-width="1.00" />
<line x1="481.50" y1="121.80" x2="483.10" y2="121.80" stroke="#7f7f7f" stroke-width="1.00" />
<line x1="596.50" y1="121.80" x2="594.90" y2="121.80" stroke="#7f7f7f" stroke-width="1.00" />
<text x="480.60" y="174.90" font-size="8.00" text-anchor="end" fill="#1a1a1a" stroke="#1a1a1a" stroke-width="0.12" >3</text>
<text x="480.60" y="125.40" font-size="8.00" text-anchor="end" fill="#1a1a1a" stroke="#1a1a1a" stroke-width="0.12" >3.5</text>
<text x="500.67" y="181.80" font-size="8.00" text-anchor="middle" fill="#1a1a1a" stroke="#1a1a1a" stroke-width="0.12" >0.4</text>
<text x="539.00" y="181.80" font-size="8.00" text-anchor="middle" fill="#1a1a1a" stroke="#1a1a1a" stroke-width="0.12" >0.42</text>
<text x="577.33" y="181.80" font-size="8.00" text-anchor="middle" fill="#1a1a1a" stroke="#1a1a1a" stroke-width="0.12" >0.44</text>
<clipPath id="cr2"><rect x="647.00" y="123.20" width="115.30" height="49.80"/></clipPath>
<rect x="647.00" y="123.20" width="115.30" height="49.80" fill="#fff"/>
<g clip-path="url(#cr2)">
<path d="M-228.1,143.1 L695.4,143.1 L696.8,145.3 L698.1,146.9 L699.6,148.4 L701.4,149.8 L703.4,151.0 L705.6,152.0 L711.4,153.8 L721.2,155.8 L734.0,157.6 L748.5,159.1 L764.6,160.4" fill="none" stroke="#EDB120" stroke-width="1.70" stroke-linejoin="round" stroke-linecap="round" />
<path d="M-228.1,143.6 L644.7,143.4 L645.2,143.4 L645.9,143.9 L646.4,143.6 L647.0,143.8 L648.2,143.4 L648.7,143.4 L649.4,143.8 L649.8,143.6 L651.0,143.8 L651.7,143.5 L652.8,143.7 L654.5,143.5 L656.2,143.9 L656.8,143.8 L657.3,143.5 L660.2,143.8 L660.8,143.3 L662.0,143.8 L662.7,143.5 L664.8,143.5 L666.0,143.3 L666.6,143.7 L667.1,143.5 L668.8,143.7 L669.5,143.5 L670.6,143.7 L671.3,143.4 L673.0,143.4 L673.5,143.7 L674.1,143.5 L675.8,143.8 L676.5,143.4 L677.0,143.4 L677.6,143.7 L678.8,143.8 L680.5,143.4 L681.1,143.8 L682.1,143.5 L682.8,143.8 L683.3,143.4 L683.9,143.7 L685.1,143.8 L686.8,143.7 L687.3,143.5 L687.9,143.9 L689.1,143.4 L689.8,143.7 L691.3,143.9 L692.1,143.5 L693.1,143.9 L694.3,143.6 L695.4,143.9 L700.0,150.5 L700.6,150.7 L701.2,151.7 L701.7,152.0 L702.3,152.9 L704.1,154.3 L704.7,154.2 L705.2,154.9 L706.4,155.4 L708.1,156.7 L709.3,157.2 L709.9,157.7 L714.4,159.0 L715.0,159.7 L716.2,160.0 L716.7,160.1 L717.3,159.7 L717.9,160.2 L719.6,160.5 L720.2,160.7 L720.8,160.6 L721.4,160.9 L721.9,160.7 L722.5,160.8 L723.1,161.4 L723.7,161.2 L724.3,161.5 L724.9,161.1 L725.4,161.6 L726.6,161.4 L729.5,162.0 L730.7,162.0 L731.2,161.8 L731.8,162.2 L734.0,162.1 L734.6,162.5 L735.3,161.9 L736.9,162.5 L737.5,162.1 L738.1,162.1 L738.7,162.6 L739.2,162.3 L740.4,162.2 L741.0,162.7 L741.5,162.7 L742.7,162.7 L743.3,162.3 L743.9,162.3 L745.0,162.8 L747.8,162.5 L748.5,162.7 L750.1,162.8 L751.9,162.7 L752.5,162.9 L753.1,162.8 L754.2,163.1 L754.9,162.9 L756.0,163.1 L756.5,163.1 L757.7,162.6 L758.3,162.7 L758.8,163.2 L760.0,163.0 L761.1,163.1 L762.3,162.7 L762.9,163.0 L764.6,163.2" fill="none" stroke="#D95319" stroke-width="1.70" stroke-linejoin="round" stroke-linecap="round" />
<path d="M-228.1,144.4 L644.7,144.1 L645.2,143.9 L646.4,144.3 L647.0,143.8 L647.7,144.1 L648.7,144.0 L649.4,143.7 L649.8,143.8 L650.5,144.3 L651.0,143.9 L652.2,144.0 L652.8,143.8 L653.3,144.1 L654.5,143.7 L655.2,144.0 L656.2,144.0 L656.8,143.7 L658.0,143.8 L659.2,144.3 L659.7,143.9 L661.3,143.8 L662.0,144.3 L663.2,144.3 L663.7,143.8 L664.3,144.3 L664.8,144.3 L665.5,143.8 L666.6,144.3 L667.1,143.9 L667.6,143.8 L669.0,144.3 L669.5,143.8 L670.1,144.0 L671.3,143.6 L672.3,143.7 L673.0,144.3 L674.1,144.0 L674.6,144.4 L675.3,143.6 L676.0,144.2 L677.5,144.2 L678.1,143.7 L679.8,144.0 L680.5,144.4 L681.6,143.7 L682.8,143.7 L683.3,144.2 L684.4,144.4 L685.1,144.0 L685.6,144.1 L687.3,143.9 L687.9,144.1 L688.4,143.8 L689.1,144.2 L689.8,143.7 L690.8,144.3 L691.9,144.0 L693.1,143.9 L694.3,144.2 L694.9,143.8 L695.9,144.7 L697.7,147.7 L698.2,148.1 L698.9,149.3 L699.4,149.6 L700.0,151.0 L701.2,151.8 L701.7,152.8 L702.3,152.7 L702.9,153.8 L703.5,153.9 L704.1,154.7 L704.7,154.5 L705.2,155.2 L705.8,155.4 L706.4,156.1 L707.6,156.6 L708.6,157.5 L709.3,157.4 L709.9,158.2 L710.4,157.8 L711.1,158.7 L711.6,159.0 L712.1,159.2 L712.7,158.8 L713.2,158.9 L713.9,159.5 L714.4,159.5 L715.0,160.0 L715.7,159.7 L716.7,160.5 L717.3,160.8 L717.9,160.4 L718.5,161.0 L719.0,160.5 L719.6,161.1 L720.2,161.2 L720.8,161.0 L721.4,161.3 L721.9,161.2 L722.5,161.7 L723.1,161.1 L723.7,161.7 L724.3,161.3 L724.9,162.0 L725.4,161.5 L725.9,161.4 L727.2,162.3 L728.2,162.0 L728.9,162.4 L729.5,162.2 L730.0,162.6 L731.2,162.1 L731.7,162.4 L732.3,162.3 L732.8,162.7 L733.5,162.2 L734.0,162.8 L734.6,162.2 L735.2,162.2 L735.8,162.2 L736.9,162.9 L737.5,162.8 L738.1,162.5 L738.7,162.8 L739.2,162.4 L739.8,163.1 L741.0,162.6 L742.2,162.9 L742.7,163.3 L743.9,163.1 L744.5,162.6 L745.0,162.7 L745.6,163.2 L746.2,162.7 L746.8,163.4 L747.8,162.7 L748.5,163.2 L749.1,162.8 L750.1,163.4 L751.3,163.2 L751.9,163.4 L752.5,163.0 L753.1,163.4 L753.6,163.0 L754.8,163.6 L755.4,163.2 L756.0,163.6 L757.1,163.0 L758.3,163.3 L758.8,163.7 L759.5,163.3 L760.0,163.6 L760.6,163.2 L761.1,163.6 L761.8,163.3 L762.8,163.4 L763.5,163.2 L764.1,163.6 L764.6,163.6" fill="none" stroke="#0072BD" stroke-width="2.20" stroke-linejoin="round" stroke-linecap="round" />
<path d="M-228.1,142.8 L695.4,142.7 L711.6,145.5 L728.3,147.9 L746.0,150.2 L764.6,152.2" fill="none" stroke="#7E2F8E" stroke-width="1.70" stroke-linejoin="round" stroke-linecap="round" />
</g>
<rect x="647.00" y="123.20" width="115.30" height="49.80" fill="none" stroke="#7f7f7f" stroke-width="1.00"/>
<line x1="647.00" y1="173.00" x2="647.00" y2="171.40" stroke="#7f7f7f" stroke-width="1.00" />
<line x1="647.00" y1="123.20" x2="647.00" y2="124.80" stroke="#7f7f7f" stroke-width="1.00" />
<line x1="670.06" y1="173.00" x2="670.06" y2="171.40" stroke="#7f7f7f" stroke-width="1.00" />
<line x1="670.06" y1="123.20" x2="670.06" y2="124.80" stroke="#7f7f7f" stroke-width="1.00" />
<line x1="693.12" y1="173.00" x2="693.12" y2="171.40" stroke="#7f7f7f" stroke-width="1.00" />
<line x1="693.12" y1="123.20" x2="693.12" y2="124.80" stroke="#7f7f7f" stroke-width="1.00" />
<line x1="716.18" y1="173.00" x2="716.18" y2="171.40" stroke="#7f7f7f" stroke-width="1.00" />
<line x1="716.18" y1="123.20" x2="716.18" y2="124.80" stroke="#7f7f7f" stroke-width="1.00" />
<line x1="739.24" y1="173.00" x2="739.24" y2="171.40" stroke="#7f7f7f" stroke-width="1.00" />
<line x1="739.24" y1="123.20" x2="739.24" y2="124.80" stroke="#7f7f7f" stroke-width="1.00" />
<line x1="647.00" y1="173.00" x2="648.60" y2="173.00" stroke="#7f7f7f" stroke-width="1.00" />
<line x1="762.30" y1="173.00" x2="760.70" y2="173.00" stroke="#7f7f7f" stroke-width="1.00" />
<line x1="647.00" y1="148.10" x2="648.60" y2="148.10" stroke="#7f7f7f" stroke-width="1.00" />
<line x1="762.30" y1="148.10" x2="760.70" y2="148.10" stroke="#7f7f7f" stroke-width="1.00" />
<line x1="647.00" y1="123.20" x2="648.60" y2="123.20" stroke="#7f7f7f" stroke-width="1.00" />
<line x1="762.30" y1="123.20" x2="760.70" y2="123.20" stroke="#7f7f7f" stroke-width="1.00" />
<text x="645.60" y="176.60" font-size="8.00" text-anchor="end" fill="#1a1a1a" stroke="#1a1a1a" stroke-width="0.12" >2.5</text>
<text x="645.60" y="151.70" font-size="8.00" text-anchor="end" fill="#1a1a1a" stroke="#1a1a1a" stroke-width="0.12" >3</text>
<text x="645.60" y="126.80" font-size="8.00" text-anchor="end" fill="#1a1a1a" stroke="#1a1a1a" stroke-width="0.12" >3.5</text>
<text x="647.00" y="184.20" font-size="8.00" text-anchor="middle" fill="#1a1a1a" stroke="#1a1a1a" stroke-width="0.12" >0.78</text>
<text x="670.06" y="184.20" font-size="8.00" text-anchor="middle" fill="#1a1a1a" stroke="#1a1a1a" stroke-width="0.12" >0.79</text>
<text x="693.12" y="184.20" font-size="8.00" text-anchor="middle" fill="#1a1a1a" stroke="#1a1a1a" stroke-width="0.12" >0.8</text>
<text x="716.18" y="184.20" font-size="8.00" text-anchor="middle" fill="#1a1a1a" stroke="#1a1a1a" stroke-width="0.12" >0.81</text>
<text x="739.24" y="184.20" font-size="8.00" text-anchor="middle" fill="#1a1a1a" stroke="#1a1a1a" stroke-width="0.12" >0.82</text>
<ellipse cx="567.30" cy="48.80" rx="15.60" ry="15.50" fill="none" stroke="#333" stroke-width="0.8" transform="rotate(0.00 567.30 48.80)"/>
<ellipse cx="676.00" cy="63.30" rx="13.70" ry="28.90" fill="none" stroke="#333" stroke-width="0.8" transform="rotate(-3.80 676.00 63.30)"/>
<line x1="557.20" y1="62.70" x2="531.60" y2="115.22" stroke="#222" stroke-width="0.80" />
<path d="M528.20,122.20 L528.85,111.73 L531.60,115.22 L536.05,115.23 Z" fill="#111"/>
<line x1="680.20" y1="91.60" x2="699.81" y2="116.59" stroke="#222" stroke-width="0.80" />
<path d="M704.60,122.70 L695.47,117.54 L699.81,116.59 L701.76,112.60 Z" fill="#111"/>
</g>
</svg>
</body></html>
